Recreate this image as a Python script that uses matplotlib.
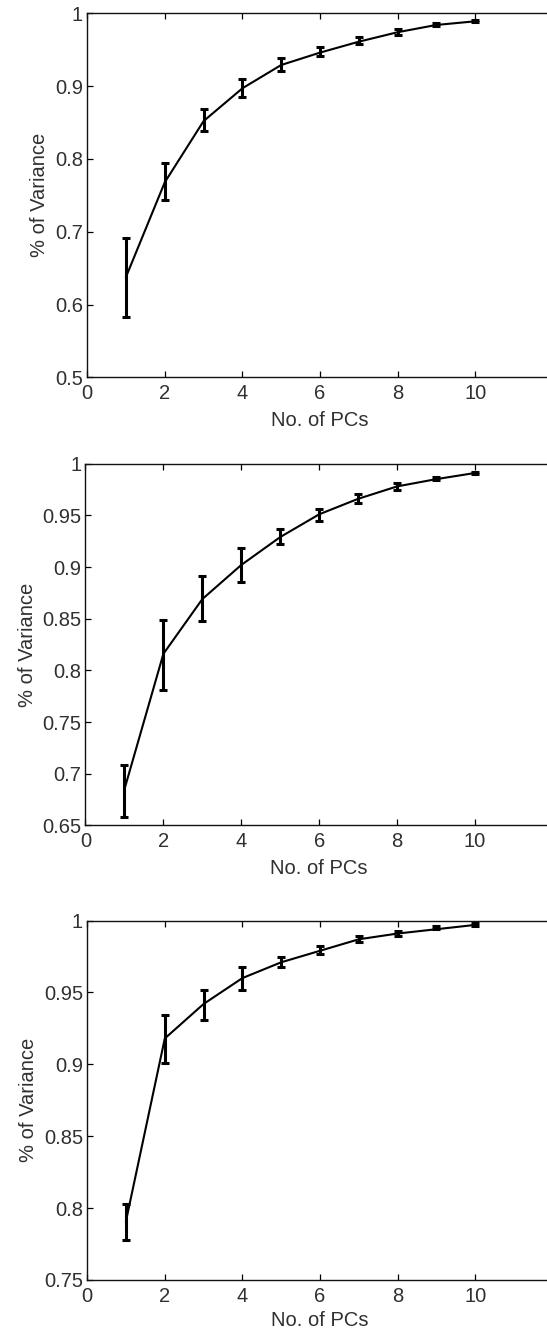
import numpy as np
import matplotlib.pyplot as plt
from matplotlib.ticker import FormatStrFormatter

# ===============================================================
# Data
# ===============================================================
n_pcs = [1, 2, 3, 4, 5, 6, 7, 8, 9, 10]

# panel 1
mean_1 = [0.638, 0.768, 0.852, 0.897, 0.929, 0.946, 0.961, 0.974, 0.984, 0.989]
low_1 = [0.583, 0.744, 0.838, 0.885, 0.921, 0.941, 0.958, 0.970, 0.982, 0.988]
high_1 = [0.692, 0.794, 0.869, 0.910, 0.938, 0.954, 0.968, 0.978, 0.986, 0.991]

# panel 2
mean_2 = [0.685, 0.816, 0.869, 0.902, 0.929, 0.951, 0.966, 0.978, 0.985, 0.991]
low_2 = [0.658, 0.781, 0.848, 0.886, 0.922, 0.945, 0.962, 0.975, 0.984, 0.990]
high_2 = [0.708, 0.849, 0.891, 0.918, 0.937, 0.956, 0.971, 0.981, 0.987, 0.992]

# panel 3
mean_3 = [0.791, 0.918, 0.942, 0.960, 0.971, 0.979, 0.987, 0.991, 0.994, 0.997]
low_3 = [0.7775, 0.901, 0.931, 0.952, 0.968, 0.977, 0.985, 0.989, 0.994, 0.996]
high_3 = [0.8027, 0.934, 0.952, 0.968, 0.975, 0.982, 0.989, 0.993, 0.996, 0.998]

y_limits = [(0.5, 1.0), (0.65, 1.0), (0.75, 1.0)]
y_steps = [0.1, 0.05, 0.05]
x_ticks = [0, 2, 4, 6, 8, 10]

# ===============================================================
# Figure
# ===============================================================
plt.rcParams["font.family"] = ["Liberation Sans", "DejaVu Sans"]
TEXT = "#303030"

fig = plt.figure(figsize=(5.47, 13.29), dpi=100)

# [left, bottom, width, height] in figure fractions
positions = [
    [0.1594, 0.7160, 0.8512, 0.2740],
    [0.1563, 0.3789, 0.8543, 0.2722],
    [0.1594, 0.0369, 0.8512, 0.2704],
]
label_pads = [5.5, 5.5, 3.5]

panels = [
    (mean_1, low_1, high_1),
    (mean_2, low_2, high_2),
    (mean_3, low_3, high_3),
]

for pos, (m, lo, hi), ylim, step, lp in zip(positions, panels, y_limits,
                                            y_steps, label_pads):
    ax = fig.add_axes(pos)
    m = np.array(m)
    err = [m - np.array(lo), np.array(hi) - m]
    ax.errorbar(n_pcs, m, yerr=err, color="black", lw=1.5,
                elinewidth=2.2, capsize=3.2, capthick=2.2)

    ax.set_xlim(0, 12)
    ax.set_ylim(*ylim)
    ax.set_xticks(x_ticks)
    ax.set_yticks(np.round(np.arange(ylim[0], ylim[1] + 1e-9, step), 2))
    ax.yaxis.set_major_formatter(FormatStrFormatter("%g"))

    ax.tick_params(direction="in", length=4, width=0.9, top=True, right=True,
                   labelsize=14.5, labelcolor=TEXT)
    ax.tick_params(axis="x", pad=5)
    ax.tick_params(axis="y", pad=3)
    for sp in ax.spines.values():
        sp.set_linewidth(1.0)
        sp.set_color("#111111")

    ax.set_xlabel("No. of PCs", fontsize=14.5, color=TEXT, labelpad=lp)
    ax.set_ylabel("% of Variance", fontsize=14.5, color=TEXT, labelpad=4)

fig.savefig("out.png", dpi=100)
